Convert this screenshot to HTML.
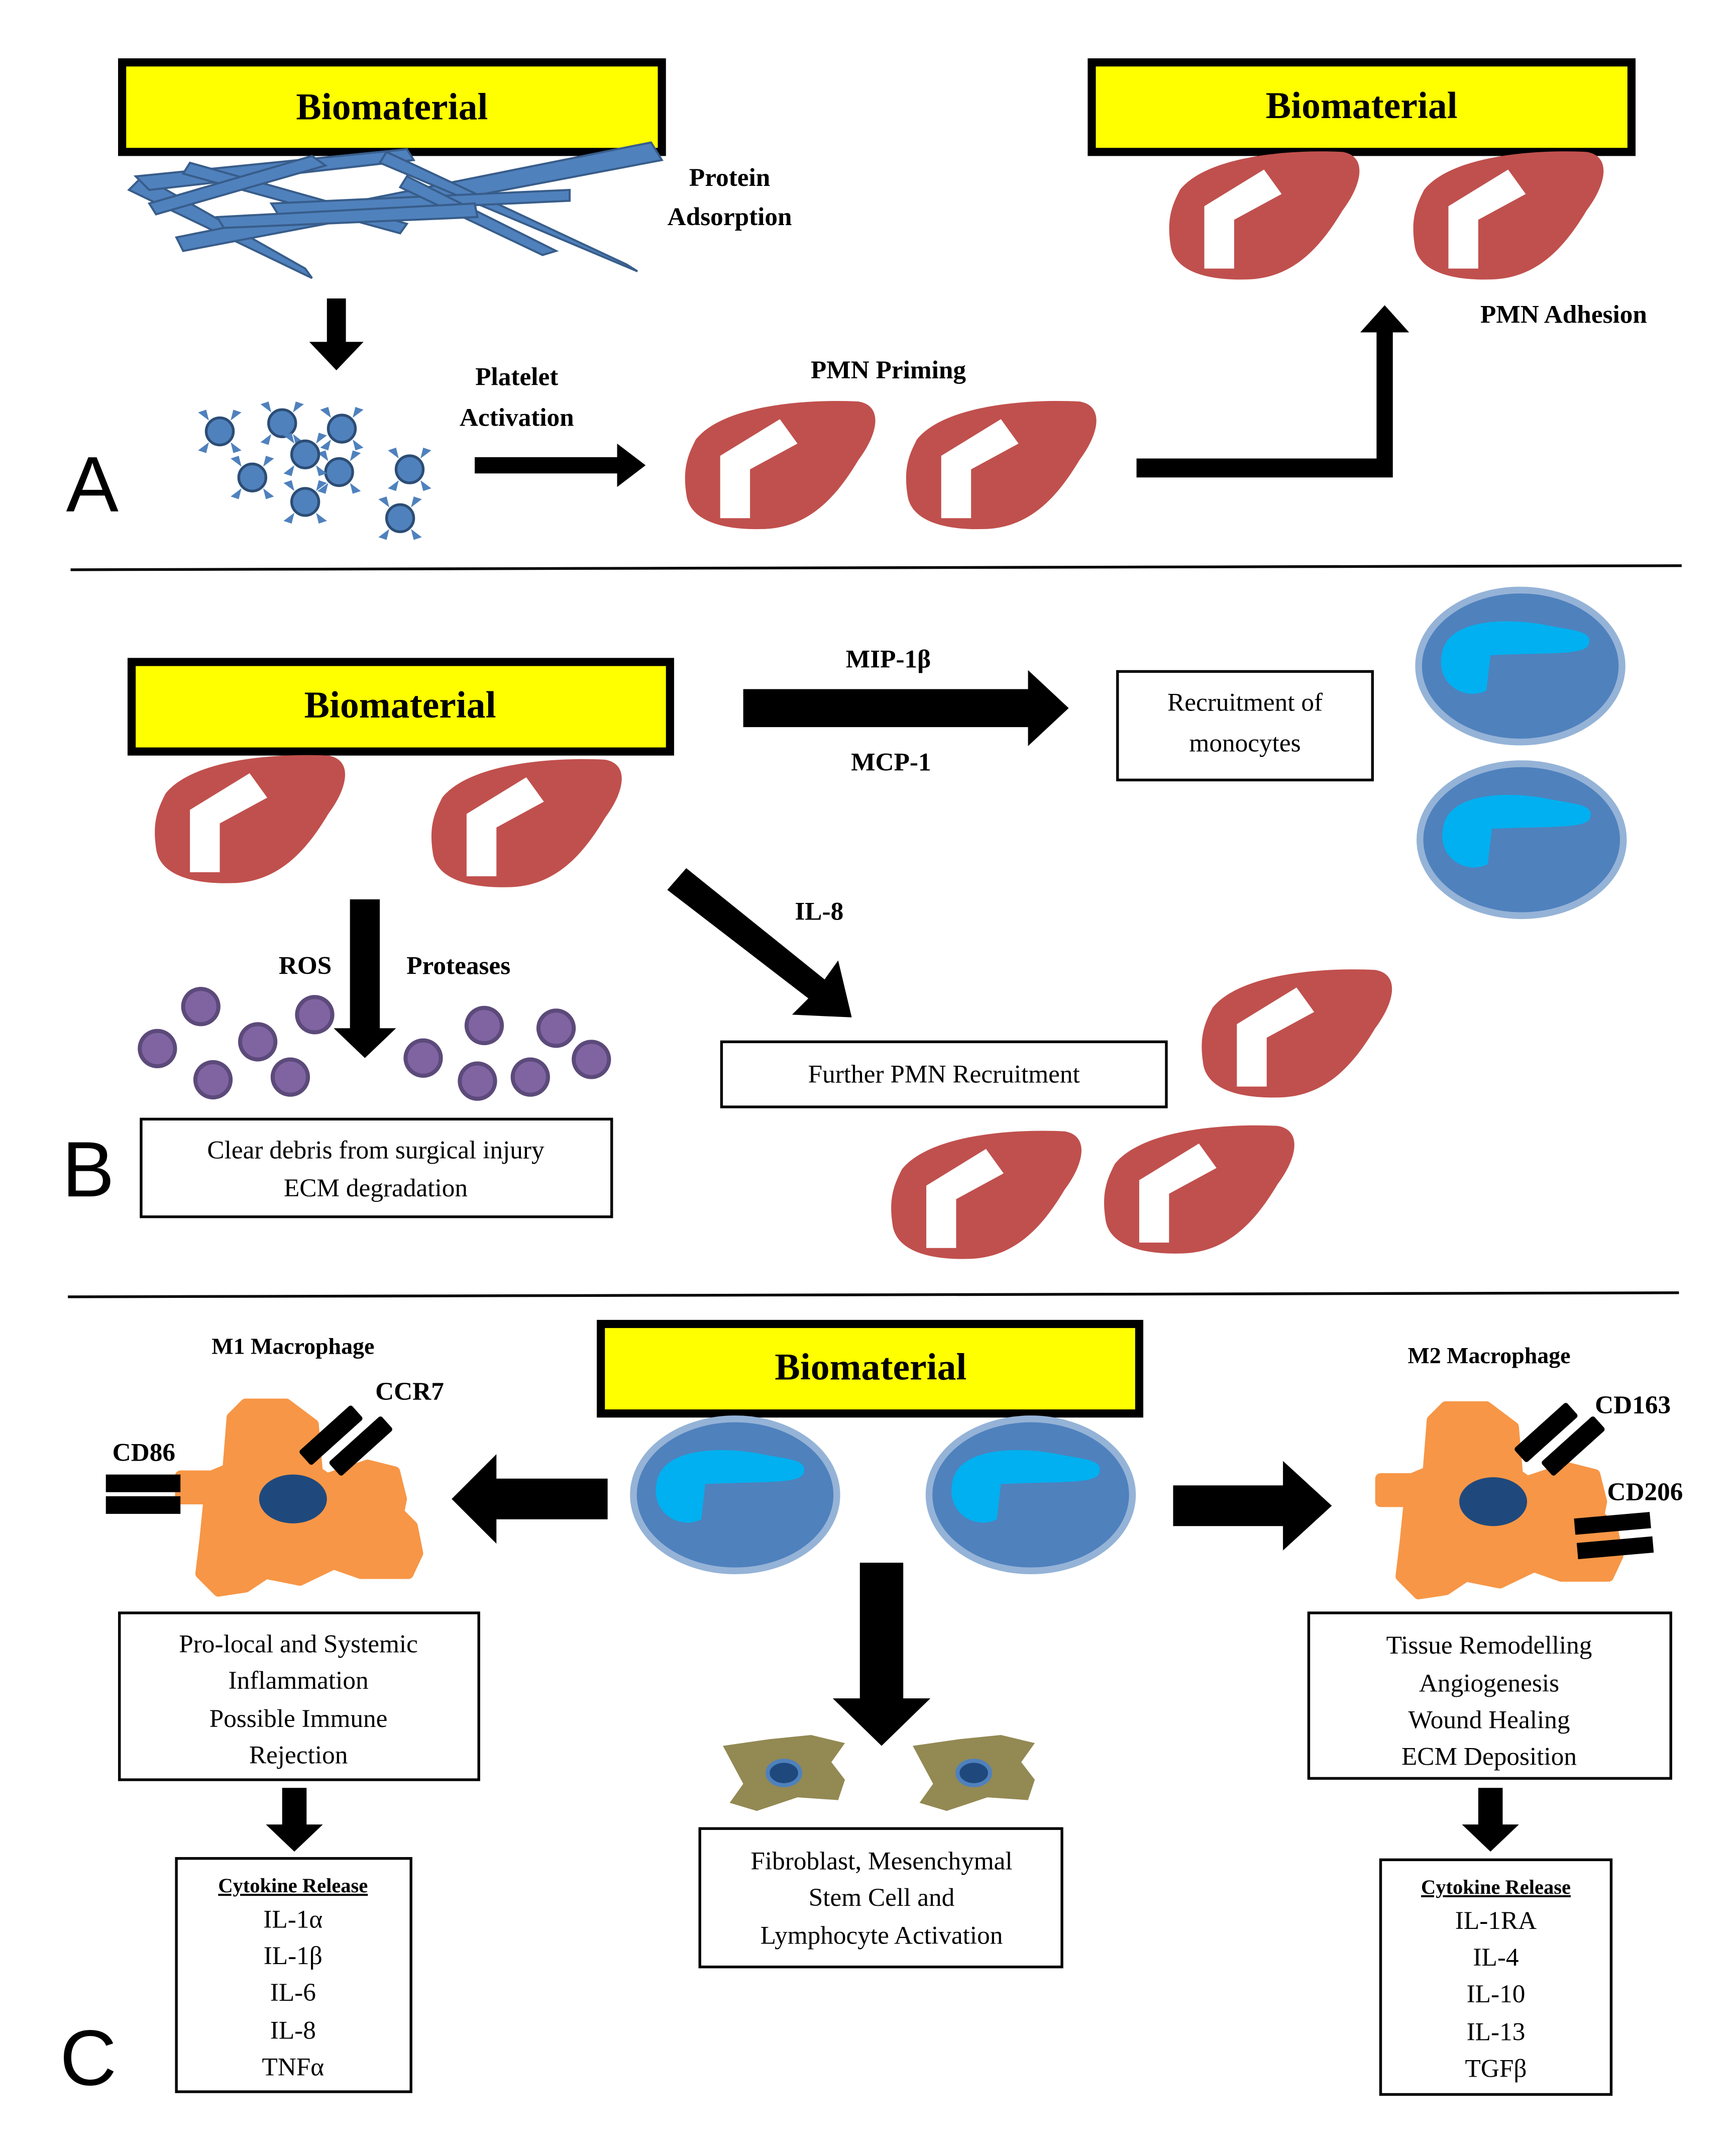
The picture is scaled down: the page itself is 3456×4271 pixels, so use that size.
<!DOCTYPE html>
<html><head><meta charset="utf-8"><style>html,body{margin:0;padding:0;background:#fff}svg{display:block}</style></head><body>
<svg width="3456" height="4271" viewBox="0 0 1280 1582" xmlns="http://www.w3.org/2000/svg">
<defs>
<g id="pmn"><path d="M10,30 C30,5 90,0 130,2 C148,5 145,25 130,45 C115,70 95,95 60,96 C30,97 5,90 3,70 C0,50 5,40 10,30 Z" fill="#c0504d"/>
<path d="M28,42 L72,15 L85,33 L50,52 L50,88 L28,88 Z" fill="#fff"/></g>
<g id="mono"><ellipse cx="0" cy="0" rx="75" ry="56" fill="#4f81bd" stroke="#95b3d7" stroke-width="5"/>
<path d="M-58,-8 C-55,-35 -10,-36 20,-30 C40,-26 55,-26 50,-15 C45,-8 20,-10 -22,-8 L-25,18 C-40,26 -62,14 -58,-8 Z" fill="#00b0f0"/></g>
<g id="mac"><path d="M-60,-17 L-48,-22 L-45,-60 L-35,-70 L-5,-70 L15,-55 L18,-20 L25,-15 L55,-25 L75,-20 L80,0 L78,10 L88,20 L92,40 L85,55 L50,55 L30,48 L5,60 L-20,55 L-35,65 L-55,68 L-68,55 L-65,30 L-62,0 L-83,0 L-83,-17 Z" fill="#f79646" stroke="#f79646" stroke-width="8" stroke-linejoin="round"/>
<ellipse cx="0" cy="0" rx="25" ry="18" fill="#1f497d"/></g>
<g id="plt"><circle r="10" fill="#4f81bd" stroke="#2c4d75" stroke-width="2"/>
<path d="M-8,-8 L-16,-14 L-10,-16 Z M8,-8 L16,-14 L10,-16 Z M-8,8 L-16,14 L-10,16 Z M8,8 L16,14 L10,16 Z" fill="#4f81bd"/></g>
<g id="fib"><path d="M-45,-20 L-10,-25 L20,-28 L45,-22 L35,-8 L45,5 L40,20 L10,18 L-20,28 L-40,22 L-30,8 Z" fill="#938953"/>
<ellipse rx="12" ry="9" fill="#1f497d" stroke="#4f81bd" stroke-width="3"/></g>
<g id="purp"><circle r="13" fill="#8064a2" stroke="#5c4a7a" stroke-width="3"/></g>
</defs>
<g font-family="Liberation Serif, serif" fill="#000">
<!-- Panel A -->
<rect x="90" y="46" width="398" height="66" fill="#ffff00" stroke="#000" stroke-width="6"/>
<text x="289" y="88" font-size="28" font-weight="bold" text-anchor="middle">Biomaterial</text>
<g fill="#4f81bd" stroke="#385d8a" stroke-width="1.5">
<polygon points="95,140 230,205 225,198 105,130"/>
<polygon points="100,130 300,110 305,118 110,140"/>
<polygon points="130,175 480,105 488,118 135,185"/>
<polygon points="140,120 300,165 295,172 135,128"/>
<polygon points="280,120 470,200 462,195 285,112"/>
<polygon points="200,150 420,140 420,148 205,158"/>
<polygon points="110,150 230,115 240,122 115,158"/>
<polygon points="300,130 410,185 400,188 295,138"/>
<polygon points="160,160 350,150 352,160 165,168"/>
</g>
<text x="538" y="137" font-size="19" font-weight="bold" text-anchor="middle">Protein</text>
<text x="538" y="166" font-size="19" font-weight="bold" text-anchor="middle">Adsorption</text>
<polygon points="241,220 255,220 255,252 268,252 248,273 228,252 241,252"/>
<use href="#plt" x="162" y="318"/><use href="#plt" x="208" y="312"/><use href="#plt" x="252" y="316"/>
<use href="#plt" x="186" y="352"/><use href="#plt" x="250" y="348"/><use href="#plt" x="302" y="346"/>
<use href="#plt" x="225" y="370"/><use href="#plt" x="295" y="382"/><use href="#plt" x="225" y="335"/>
<text x="381" y="284" font-size="19" font-weight="bold" text-anchor="middle">Platelet</text>
<text x="381" y="314" font-size="19" font-weight="bold" text-anchor="middle">Activation</text>
<polygon points="350,337 455,337 455,327 476,343 455,359 455,349 350,349"/>
<text x="655" y="279" font-size="19" font-weight="bold" text-anchor="middle">PMN Priming</text>
<use href="#pmn" x="503" y="294"/><use href="#pmn" x="666" y="294"/>
<polygon points="838,338 1015,338 1015,245 1003,245 1021,225 1039,245 1027,245 1027,352 838,352"/>
<rect x="805" y="46" width="398" height="66" fill="#ffff00" stroke="#000" stroke-width="6"/>
<text x="1004" y="87" font-size="28" font-weight="bold" text-anchor="middle">Biomaterial</text>
<use href="#pmn" x="860" y="110"/><use href="#pmn" x="1040" y="110"/>
<text x="1153" y="238" font-size="19" font-weight="bold" text-anchor="middle">PMN Adhesion</text>
<text x="68" y="377" font-size="58" font-family="Liberation Sans, sans-serif" text-anchor="middle">A</text>
<line x1="52" y1="420" x2="1240" y2="417" stroke="#000" stroke-width="2"/>
<!-- Panel B -->
<rect x="97" y="488" width="397" height="66" fill="#ffff00" stroke="#000" stroke-width="6"/>
<text x="295" y="529" font-size="28" font-weight="bold" text-anchor="middle">Biomaterial</text>
<use href="#pmn" x="112" y="555"/><use href="#pmn" x="316" y="558"/>
<polygon points="548,508 758,508 758,494 788,522 758,550 758,536 548,536"/>
<text x="655" y="492" font-size="19" font-weight="bold" text-anchor="middle">MIP-1β</text>
<text x="657" y="568" font-size="19" font-weight="bold" text-anchor="middle">MCP-1</text>
<rect x="824" y="495" width="188" height="80" fill="none" stroke="#000" stroke-width="2"/>
<text x="918" y="524" font-size="19" text-anchor="middle">Recruitment of</text>
<text x="918" y="554" font-size="19" text-anchor="middle">monocytes</text>
<use href="#mono" x="1121" y="491"/><use href="#mono" x="1122" y="619"/>
<polygon points="258,663 280,663 280,758 292,758 269,780 246,758 258,758"/>
<text x="225" y="718" font-size="19" font-weight="bold" text-anchor="middle">ROS</text>
<text x="338" y="718" font-size="19" font-weight="bold" text-anchor="middle">Proteases</text>
<use href="#purp" x="116" y="773"/><use href="#purp" x="148" y="742"/><use href="#purp" x="190" y="768"/>
<use href="#purp" x="157" y="796"/><use href="#purp" x="214" y="794"/><use href="#purp" x="232" y="748"/>
<use href="#purp" x="312" y="780"/><use href="#purp" x="357" y="756"/><use href="#purp" x="352" y="797"/>
<use href="#purp" x="391" y="794"/><use href="#purp" x="410" y="758"/><use href="#purp" x="436" y="781"/>
<polygon points="506,640 608,722 618,708 628,750 584,748 596,736 492,656"/>
<text x="604" y="678" font-size="19" font-weight="bold" text-anchor="middle">IL-8</text>
<rect x="532" y="768" width="328" height="48" fill="none" stroke="#000" stroke-width="2"/>
<text x="696" y="798" font-size="19" text-anchor="middle">Further PMN Recruitment</text>
<rect x="104" y="825" width="347" height="72" fill="none" stroke="#000" stroke-width="2"/>
<text x="277" y="854" font-size="19" text-anchor="middle">Clear debris from surgical injury</text>
<text x="277" y="882" font-size="19" text-anchor="middle">ECM degradation</text>
<use href="#pmn" x="884" y="713"/><use href="#pmn" x="655" y="832"/><use href="#pmn" x="812" y="828"/>
<text x="65" y="882" font-size="58" font-family="Liberation Sans, sans-serif" text-anchor="middle">B</text>
<line x1="50" y1="956" x2="1238" y2="953" stroke="#000" stroke-width="2"/>
<!-- Panel C -->
<rect x="443" y="976" width="397" height="66" fill="#ffff00" stroke="#000" stroke-width="6"/>
<text x="642" y="1017" font-size="28" font-weight="bold" text-anchor="middle">Biomaterial</text>
<use href="#mono" x="542" y="1102"/><use href="#mono" x="760" y="1102"/>
<polygon points="448,1090 366,1090 366,1072 333,1105 366,1138 366,1120 448,1120"/>
<polygon points="865,1095 946,1095 946,1077 982,1110 946,1143 946,1125 865,1125"/>
<polygon points="634,1152 666,1152 666,1252 686,1252 650,1287 614,1252 634,1252"/>
<text x="216" y="998" font-size="17" font-weight="bold" text-anchor="middle">M1 Macrophage</text>
<use href="#mac" x="216" y="1105"/>
<rect x="78" y="1087" width="55" height="13"/><rect x="78" y="1103" width="55" height="13"/>
<g transform="translate(244,1058) rotate(-42)"><rect x="-26" y="-7" width="52" height="14" rx="2"/></g>
<g transform="translate(266,1066) rotate(-42)"><rect x="-26" y="-7" width="52" height="14" rx="2"/></g>
<text x="106" y="1077" font-size="19" font-weight="bold" text-anchor="middle">CD86</text>
<text x="302" y="1032" font-size="19" font-weight="bold" text-anchor="middle">CCR7</text>
<text x="1098" y="1005" font-size="17" font-weight="bold" text-anchor="middle">M2 Macrophage</text>
<use href="#mac" x="1101" y="1107"/>
<g transform="translate(1140,1056) rotate(-42)"><rect x="-26" y="-7" width="52" height="14" rx="2"/></g>
<g transform="translate(1160,1066) rotate(-42)"><rect x="-26" y="-7" width="52" height="14" rx="2"/></g>
<g transform="translate(1189,1123) rotate(-5)"><rect x="-28" y="-6" width="56" height="12"/></g>
<g transform="translate(1191,1141) rotate(-5)"><rect x="-28" y="-6" width="56" height="12"/></g>
<text x="1204" y="1042" font-size="19" font-weight="bold" text-anchor="middle">CD163</text>
<text x="1213" y="1106" font-size="19" font-weight="bold" text-anchor="middle">CD206</text>
<rect x="88" y="1189" width="265" height="123" fill="none" stroke="#000" stroke-width="2"/>
<g font-size="19" text-anchor="middle">
<text x="220" y="1218">Pro-local and Systemic</text>
<text x="220" y="1245">Inflammation</text>
<text x="220" y="1273">Possible Immune</text>
<text x="220" y="1300">Rejection</text>
</g>
<polygon points="208,1318 226,1318 226,1345 238,1345 217,1365 196,1345 208,1345"/>
<rect x="130" y="1370" width="173" height="172" fill="none" stroke="#000" stroke-width="2"/>
<g font-size="19" text-anchor="middle">
<text x="216" y="1395" font-size="15" font-weight="bold" text-decoration="underline">Cytokine Release</text>
<text x="216" y="1421">IL-1α</text><text x="216" y="1448">IL-1β</text><text x="216" y="1475">IL-6</text>
<text x="216" y="1503">IL-8</text><text x="216" y="1530">TNFα</text>
</g>
<use href="#fib" x="578" y="1307"/><use href="#fib" x="718" y="1307"/>
<rect x="516" y="1348" width="267" height="102" fill="none" stroke="#000" stroke-width="2"/>
<g font-size="19" text-anchor="middle">
<text x="650" y="1378">Fibroblast, Mesenchymal</text>
<text x="650" y="1405">Stem Cell and</text>
<text x="650" y="1433">Lymphocyte Activation</text>
</g>
<rect x="965" y="1189" width="267" height="122" fill="none" stroke="#000" stroke-width="2"/>
<g font-size="19" text-anchor="middle">
<text x="1098" y="1219">Tissue Remodelling</text>
<text x="1098" y="1247">Angiogenesis</text>
<text x="1098" y="1274">Wound Healing</text>
<text x="1098" y="1301">ECM Deposition</text>
</g>
<polygon points="1090,1318 1108,1318 1108,1345 1120,1345 1099,1365 1078,1345 1090,1345"/>
<rect x="1018" y="1371" width="170" height="173" fill="none" stroke="#000" stroke-width="2"/>
<g font-size="19" text-anchor="middle">
<text x="1103" y="1396" font-size="15" font-weight="bold" text-decoration="underline">Cytokine Release</text>
<text x="1103" y="1422">IL-1RA</text><text x="1103" y="1449">IL-4</text><text x="1103" y="1476">IL-10</text>
<text x="1103" y="1504">IL-13</text><text x="1103" y="1531">TGFβ</text>
</g>
<text x="65" y="1537" font-size="58" font-family="Liberation Sans, sans-serif" text-anchor="middle">C</text>
</g>
</svg>
</body></html>
